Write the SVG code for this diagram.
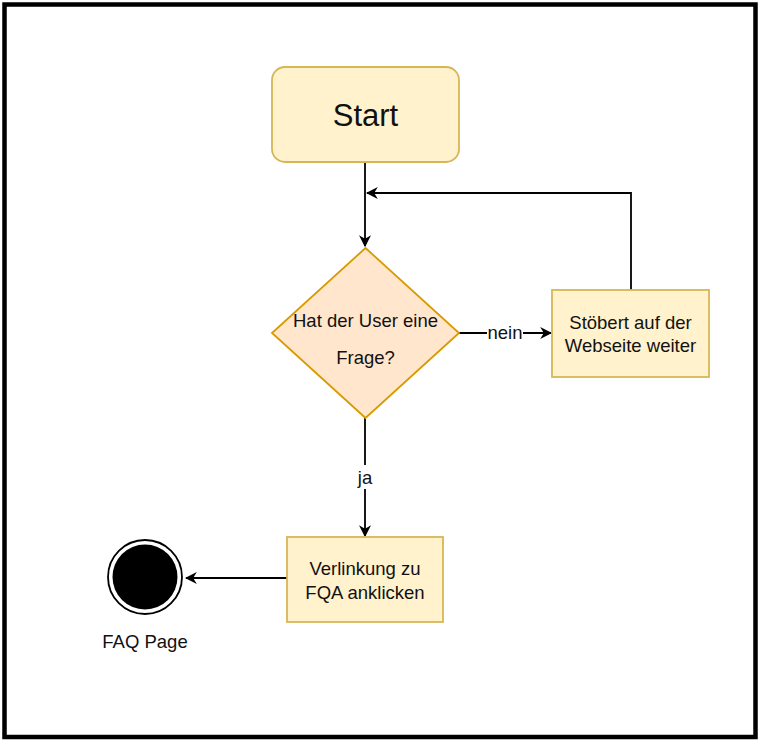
<svg xmlns="http://www.w3.org/2000/svg" width="763" height="745" viewBox="0 0 763 745">
<defs>
<marker id="arr" viewBox="0 0 10 10" refX="9" refY="5" markerWidth="12" markerHeight="12" markerUnits="userSpaceOnUse" orient="auto">
<path d="M0,0 L10,5 L0,10 L3,5 Z" fill="#000"/>
</marker>
<style>
text{font-family:"Liberation Sans",Arial,sans-serif;fill:#111;text-anchor:middle;dominant-baseline:central}
.t16{font-size:18.5px}
.conn{fill:none;stroke:#000;stroke-width:1.8;marker-end:url(#arr)}
.box{fill:#fff2cc;stroke:#d6b656;stroke-width:1.8}
</style>
</defs>
<rect x="0" y="0" width="763" height="745" fill="#fff"/>
<rect x="4.5" y="4.5" width="751" height="732.5" fill="none" stroke="#000" stroke-width="4.5"/>
<g id="connectors">
<path class="conn" d="M365,162 V246"/>
<path class="conn" d="M631,290 V193 H367"/>
<path class="conn" d="M459,333 H551"/>
<path class="conn" d="M365,418 V536"/>
<path class="conn" d="M287,578 H186"/>
<rect x="487" y="322" width="36" height="22" fill="#fff"/>
<text class="t16" x="505" y="332">nein</text>
<rect x="353" y="465" width="24" height="24" fill="#fff"/>
<text class="t16" x="365" y="477">ja</text>
</g>
<g id="start">
<rect class="box" x="272" y="67" width="187" height="95" rx="13"/>
<text x="365.5" y="115" font-size="31">Start</text>
</g>
<g id="decision">
<polygon points="365.5,248 459,333 365.5,418 272,333" fill="#ffe6cc" stroke="#d79b00" stroke-width="1.8"/>
<text class="t16" x="365.5" y="320">Hat der User eine</text>
<text class="t16" x="365.5" y="357">Frage?</text>
</g>
<g id="browse">
<rect class="box" x="552" y="290" width="157" height="87"/>
<text class="t16" x="630.5" y="322">Stöbert auf der</text>
<text class="t16" x="630.5" y="345">Webseite weiter</text>
</g>
<g id="link">
<rect class="box" x="287" y="537" width="156" height="85"/>
<text class="t16" x="365" y="568">Verlinkung zu</text>
<text class="t16" x="365" y="592">FQA anklicken</text>
</g>
<g id="end">
<circle cx="145" cy="577" r="37" fill="#fff" stroke="#000" stroke-width="1.8"/>
<circle cx="145" cy="577" r="32.5" fill="#000"/>
<text class="t16" x="145" y="641">FAQ Page</text>
</g>
</svg>
